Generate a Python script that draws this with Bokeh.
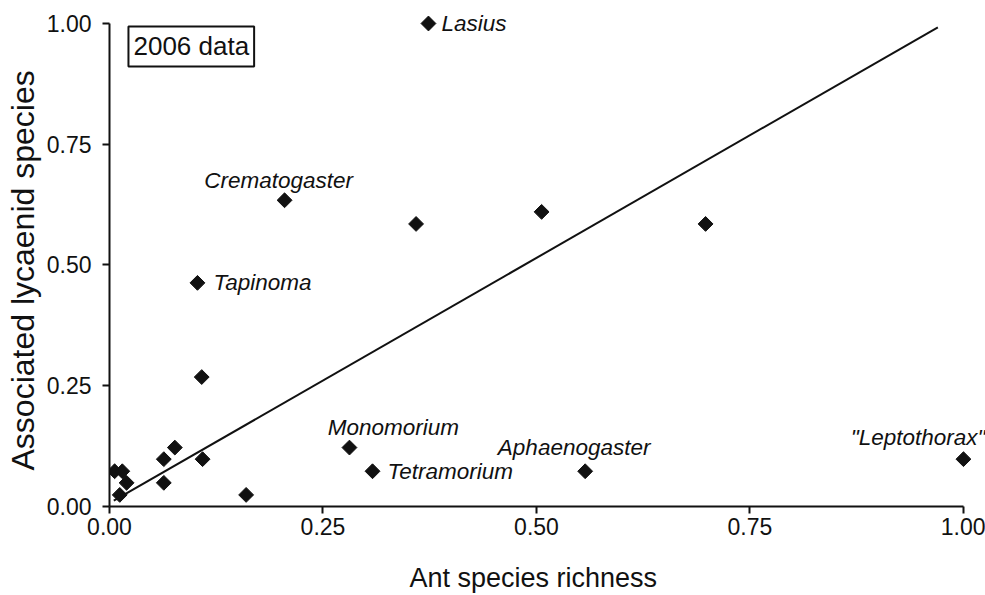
import numpy as np
from bokeh.plotting import figure
from bokeh.models import Range1d, Label, Title, FixedTicker, NumeralTickFormatter, LinearAxis
from bokeh.core.properties import value
from bokeh.embed import file_html
from bokeh.resources import INLINE

# ---- data ----
ant_richness = [0.3735, 0.205, 0.359, 0.506, 0.698, 0.103, 0.108, 0.0765, 0.0636, 0.0636,
                0.109, 0.160, 0.281, 0.308, 0.557, 1.000, 0.006, 0.015, 0.020, 0.012]
lycaenid_species = [1.000, 0.634, 0.585, 0.610, 0.585, 0.463, 0.268, 0.122, 0.098, 0.049,
                    0.098, 0.024, 0.122, 0.073, 0.073, 0.098, 0.073, 0.073, 0.049, 0.024]
genus = ["Lasius", "Crematogaster", "", "", "", "Tapinoma", "", "", "", "",
         "", "", "Monomorium", "Tetramorium", "Aphaenogaster", "\"Leptothorax\"", "", "", "", ""]

fit_x = [0.005, 0.970]
fit_y = [0.012, 0.992]

tick_values = [0.0, 0.25, 0.5, 0.75, 1.0]
tick_labels = ["0.00", "0.25", "0.50", "0.75", "1.00"]

x_title = "Ant species richness"
y_title = "Associated lycaenid species"
panel_note = "2006 data"

# ---- label layout (styles / offsets in screen px) ----
label_layout = {
    "Lasius": ("left", 13, 0),
    "Crematogaster": ("center", -6, -20),
    "Tapinoma": ("left", 16, 0),
    "Monomorium": ("center", 44, -20),
    "Tetramorium": ("left", 15, 0),
    "Aphaenogaster": ("center", -11, -24),
    "\"Leptothorax\"": ("right", 22, -22),
}

FONT = "Liberation Sans"
INK = "#111111"

p = figure(frame_width=876, frame_height=496,
           x_range=Range1d(0, 1.0258), y_range=Range1d(0, 1.0269),
           output_backend="svg", toolbar_location=None,
           min_border_left=108, min_border_right=0, min_border_top=10, min_border_bottom=60)
p.outline_line_color = None
p.xgrid.visible = False
p.ygrid.visible = False
p.background_fill_color = "white"
p.border_fill_color = "white"

for ax in (p.xaxis[0], p.yaxis[0]):
    ax.ticker = FixedTicker(ticks=tick_values)
    ax.formatter = NumeralTickFormatter(format="0.00")
    ax.major_label_overrides = dict(zip(tick_values, tick_labels))
    ax.bounds = (0, 1)
    ax.axis_line_width = 2
    ax.axis_line_color = INK
    ax.major_tick_line_width = 2
    ax.major_tick_line_color = INK
    ax.major_tick_in = 0
    ax.major_tick_out = 7
    ax.minor_tick_line_color = None
    ax.major_label_text_font = FONT
    ax.major_label_text_font_size = "23px"
    ax.major_label_text_color = INK

p.xaxis.major_label_standoff = 4
p.yaxis.major_label_standoff = 11

# blank spacer band between the x tick labels and the x title
spacer = LinearAxis(ticker=FixedTicker(ticks=[1.0]), axis_line_color=None,
                    major_tick_in=0, major_tick_out=22, major_tick_line_color="white",
                    minor_tick_line_color=None, major_label_standoff=0,
                    major_label_text_color=None, major_label_text_font_size="1px")
p.add_layout(spacer, "below")

# axis titles as side titles, positioned along the 0..1 span of each axis
p.add_layout(Title(text=x_title, align="left", offset=300, standoff=2,
                   text_font=FONT, text_font_size="27px", text_font_style="normal",
                   text_color=INK), "below")
p.add_layout(Title(text=y_title, align="left", offset=36, standoff=5,
                   text_font=FONT, text_font_size="32px", text_font_style="normal",
                   text_color=INK), "left")

# regression line
p.line(fit_x, fit_y, line_width=2, line_color=INK)

# points
p.scatter(ant_richness, lycaenid_species, marker="square", size=10.5, angle=np.pi / 4,
          fill_color=INK, line_color=INK)

# genus labels
for gx, gy, name in zip(ant_richness, lycaenid_species, genus):
    if not name:
        continue
    align, dx, dy = label_layout[name]
    p.text(x=[gx], y=[gy], text=[name], x_offset=dx, y_offset=dy,
           text_align=align, text_baseline="middle",
           text_font=value(FONT), text_font_style="italic",
           text_font_size="22.5px", text_color=INK)

note = Label(x=0.0222, y=0.9938, x_units="data", y_units="data", text=panel_note,
             anchor="top_left", padding=5,
             text_font=FONT, text_font_size="26px", text_color=INK,
             border_line_color=INK, border_line_width=2,
             background_fill_color="white")
p.add_layout(note)

open("out.html", "w").write(file_html(p, INLINE))
